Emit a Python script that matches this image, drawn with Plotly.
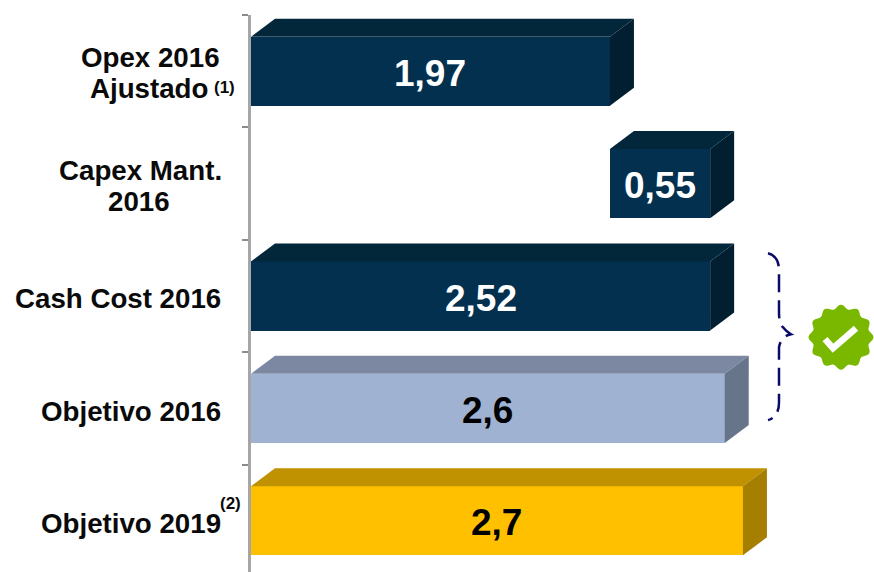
import math
import plotly.graph_objects as go

categories = ["Opex 2016 Ajustado", "Capex Mant. 2016", "Cash Cost 2016", "Objetivo 2016", "Objetivo 2019"]
bases = [0, 1.97, 0, 0, 0]
values = [1.97, 0.55, 2.52, 2.6, 2.7]
value_labels = ["1,97", "0,55", "2,52", "2,6", "2,7"]
front = ["#03304F", "#03304F", "#03304F", "#9FB2D1", "#FFC000"]
top = ["#02273B", "#02273B", "#02273B", "#7C88A2", "#C09100"]
side = ["#011F30", "#011F30", "#011F30", "#66758A", "#A67E00"]
text_col = ["white", "white", "white", "black", "black"]

# (text, right edge px, centre y px, size)
label_lines = [
    ("Opex 2016", 222, 57, 27.7), ("Ajustado", 210, 88, 27.7), ("(1)", 237, 87, 17),
    ("Capex Mant.", 224, 170, 27.7), ("2016", 172, 201, 27.7),
    ("Cash Cost 2016", 223, 298, 27.7),
    ("Objetivo 2016", 223, 411, 27.7),
    ("Objetivo 2019", 223, 523, 27.7), ("(2)", 243, 503, 17),
]

W, H = 874, 572
L, T = 251, 14.5
PX_X = 182.2
BAND = 112.5
BAR_W = 0.615
DX, DY = 24 / PX_X, 18 / BAND


def px(x):
    return (x - L) / (W - L)


def py(y):
    return 1 - (y - T) / (H - T)


fig = go.Figure()
yy = list(range(len(values)))
for i in yy:
    x0, x1 = bases[i], bases[i] + values[i]
    yt, yb = i - BAR_W / 2, i + BAR_W / 2
    fig.add_trace(go.Scatter(
        x=[x0, x0 + DX, x1 + DX, x1, x0], y=[yt, yt - DY, yt - DY, yt, yt],
        mode="lines", fill="toself", fillcolor=top[i], line=dict(width=0), hoverinfo="skip", showlegend=False))
    fig.add_trace(go.Scatter(
        x=[x1, x1 + DX, x1 + DX, x1, x1], y=[yt, yt - DY, yb - DY, yb, yt],
        mode="lines", fill="toself", fillcolor=side[i], line=dict(width=0), hoverinfo="skip", showlegend=False))

fig.add_trace(go.Bar(
    y=yy, x=values, base=bases, orientation="h", width=BAR_W,
    marker=dict(color=front, line=dict(width=0)),
    cliponaxis=False, showlegend=False, customdata=categories,
))

anns = [dict(xref="paper", yref="paper", x=px(r), y=py(c), text=f"<b>{t}</b>", showarrow=False,
             xanchor="right", yanchor="middle",
             font=dict(family="Liberation Sans", size=s, color="#0A0A0A"))
        for t, r, c, s in label_lines]
anns += [dict(xref="x", yref="y", x=bases[i] + values[i] / 2, y=i, yshift=-2, text=f"<b>{value_labels[i]}</b>",
              showarrow=False, xanchor="center", yanchor="middle",
              font=dict(family="Liberation Sans", size=37, color=text_col[i]))
         for i in yy]


def P(a, b):
    return f"{px(a):.5f},{py(b):.5f}"


brace = (f"M{P(768,253)} Q{P(779,256)} {P(779,270)} L{P(779,312)} Q{P(779,324)} {P(783,327)} "
         f"Q{P(786,331)} {P(791,334)} Q{P(781,336)} {P(779,347)} L{P(779,402)} Q{P(779,417)} {P(768,420)}")
shapes = [dict(type="path", xref="paper", yref="paper", path=brace,
               line=dict(color="#0B0B6B", width=2.5, dash="18px,8px"))]

# badge: scalloped disc
cx, cy, n = 841, 337, 12
pts = []
for k in range(144):
    a = 2 * math.pi * k / 144
    r = 30.5 + 2.0 * math.cos(n * a)
    pts.append(P(cx + r * math.sin(a), cy - r * math.cos(a)))
shapes.append(dict(type="path", xref="paper", yref="paper", path="M" + " L".join(pts) + " Z",
                   fillcolor="#7AB800", line=dict(width=0)))
shapes.append(dict(type="path", xref="paper", yref="paper",
                   path=f"M{P(825,339)} L{P(833,348)} L{P(856,328)}",
                   line=dict(color="white", width=6.5)))

fig.update_layout(
    width=W, height=H, margin=dict(l=L, r=0, t=T, b=0, pad=0),
    paper_bgcolor="white", plot_bgcolor="white", bargap=0,
    annotations=anns, shapes=shapes, showlegend=False, autosize=False,
    xaxis=dict(range=[0, (W - L) / PX_X], visible=False, fixedrange=True),
    yaxis=dict(range=[(H - T) / BAND - 0.5, -0.5], tickmode="array",
               tickvals=[-0.5, 0.5, 1.5, 2.5, 3.5], ticktext=[""] * 5,
               ticks="outside", ticklen=6, tickwidth=1.5, tickcolor="#8C8C8C",
               showline=True, linecolor="#A6A6A6", linewidth=2.5, showgrid=False, zeroline=False, fixedrange=True),
)

fig.write_html("out.html", config={"displayModeBar": False},
               post_script="document.body.style.margin='0';document.body.style.overflow='hidden';")
